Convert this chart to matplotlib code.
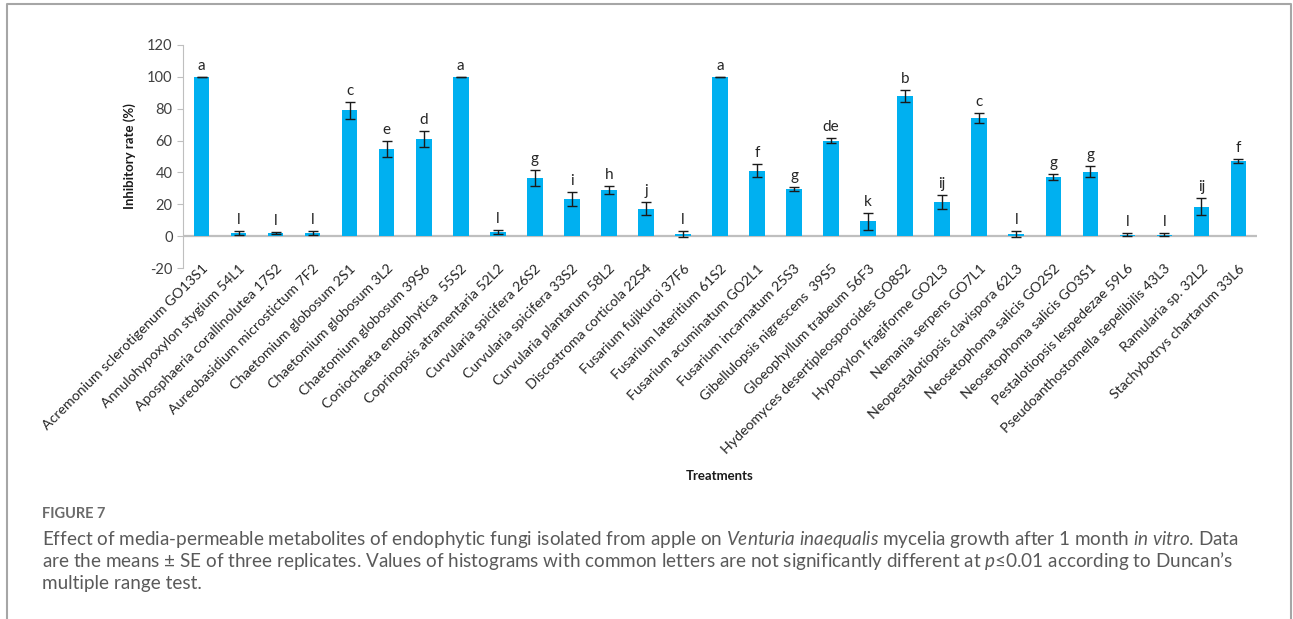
import matplotlib
matplotlib.use("Agg")
import matplotlib.pyplot as plt
from matplotlib.lines import Line2D

plt.rcParams['font.family'] = ['Lato', 'DejaVu Sans']
plt.rcParams['mathtext.fontset'] = 'custom'
plt.rcParams['mathtext.rm'] = 'Lato'
plt.rcParams['mathtext.it'] = 'Lato:italic'
plt.rcParams['axes.unicode_minus'] = False

# data
treatments = [
    "Acremonium sclerotigenum GO13S1", "Annulohypoxylon stygium 54L1",
    "Aposphaeria corallinolutea 17S2", "Aureobasidium microstictum 7F2",
    "Chaetomium globosum 2S1", "Chaetomium globosum 3L2",
    "Chaetomium globosum 39S6", "Coniochaeta endophytica  55S2",
    "Coprinopsis atramentaria 52L2", "Curvularia spicifera 26S2",
    "Curvularia spicifera 33S2", "Curvularia plantarum 58L2",
    "Discostroma corticola 22S4", "Fusarium fujikuroi 37F6",
    "Fusarium lateritium 61S2", "Fusarium acuminatum GO2L1",
    "Fusarium incarnatum 25S3", "Gibellulopsis nigrescens  39S5",
    "Gloeophyllum trabeum 56F3", "Hydeomyces desertipleosporoides GO8S2",
    "Hypoxylon fragiforme GO2L3", "Nemania serpens GO7L1",
    "Neopestalotiopsis clavispora 62L3", "Neosetophoma salicis GO2S2",
    "Neosetophoma salicis GO3S1", "Pestalotiopsis lespedezae 59L6",
    "Pseudoanthostomella sepelibilis 43L3", "Ramularia sp. 32L2",
    "Stachybotrys chartarum 33L6",
]
inhibition = [100, 2, 2, 2, 79, 54.8, 61, 100, 2.5, 36.5, 23.5, 29, 17.3, 1.5,
              100, 41.2, 29.6, 59.8, 9.2, 88, 21.5, 74.4, 1.3, 37.3, 40.4,
              0.8, 0.8, 18.5, 47.1]
se = [0, 1.5, 0.5, 1.5, 5.2, 4.8, 5.2, 0, 1.2, 5.2, 4.4, 2.4, 4.2, 2,
      0, 4, 1.4, 1.6, 5.1, 3.9, 4.3, 3.1, 2, 1.8, 3.4, 1, 1, 5.3, 1.4]
letters = ["a", "l", "l", "l", "c", "e", "d", "a", "l", "g", "i", "h", "j", "l",
           "a", "f", "g", "de", "k", "b", "ij", "c", "l", "g", "g", "l", "l",
           "ij", "f"]

fig = plt.figure(figsize=(12.93, 6.19), dpi=100)
ax = fig.add_axes([183 / 1293, 1 - 268 / 619, (1257 - 183) / 1293, (268 - 45) / 619])

x = range(len(treatments))
ax.bar(x, inhibition, width=0.42, color="#00B0F0", zorder=2)
ax.errorbar(x, inhibition, yerr=se, fmt="none", ecolor="#1a1a1a",
            elinewidth=1, capsize=3.3, capthick=1, zorder=3)
for i, lab in enumerate(letters):
    ax.annotate(lab, (i, inhibition[i] + se[i]), xytext=(0, 5),
                textcoords="offset points", ha="center", va="baseline",
                fontsize=11, color="#262626")

ax.axhline(0, color="#bfbfbf", lw=1.6, zorder=1)
ax.set_xlim(-0.5, len(treatments) - 0.5)
ax.set_ylim(-20, 120)
ax.set_yticks(range(-20, 121, 20))
for s in ["top", "right", "bottom"]:
    ax.spines[s].set_visible(False)
ax.spines["left"].set_color("#bfbfbf")
ax.tick_params(axis="y", colors="#bfbfbf", labelcolor="#404040",
               labelsize=10.5, length=4)
ax.set_xticks(list(x))
ax.set_xticklabels(treatments, rotation=45, ha="right",
                   rotation_mode="anchor", fontsize=10.2, color="#262626")
ax.tick_params(axis="x", length=0, pad=-4)
ax.set_ylabel("Inhibitory rate (%)", fontsize=9.5, fontweight="bold",
              color="#1a1a1a", labelpad=8)
fig.text(720 / 1293, 1 - 476 / 619, "Treatments", ha="center", va="center",
         fontsize=9.5, fontweight="bold", color="#1a1a1a")

# caption
cap_col = "#5a5a5a"
fig.text(42 / 1293, 1 - 514 / 619, "FIGURE 7", fontsize=10.5, fontweight="bold",
         color="#6a6a6a", va="center")
lines = [
    r"Effect of media-permeable metabolites of endophytic fungi isolated from apple on "
    r"$\mathit{Venturia\ inaequalis}$ mycelia growth after 1 month $\mathit{in\ vitro}$. Data",
    r"are the means ± SE of three replicates. Values of histograms with common "
    r"letters are not significantly different at $\mathit{p}$≤0.01 according to Duncan’s",
    "multiple range test.",
]
for k, ln in enumerate(lines):
    fig.text(42 / 1293, 1 - (539 + 22 * k) / 619, ln, fontsize=13.6,
             color=cap_col, va="center")

# frame around the figure panel
fig.add_artist(Line2D([7 / 1293, 7 / 1293, 1291 / 1293, 1291 / 1293],
                      [0, 1 - 4 / 619, 1 - 4 / 619, 0],
                      transform=fig.transFigure, color="#a6a6a6", lw=1.5))

fig.savefig("out.png", dpi=100)
